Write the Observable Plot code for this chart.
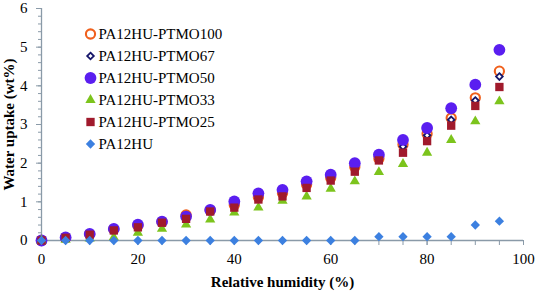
<!DOCTYPE html>
<html>
<head>
<meta charset="utf-8">
<script src="https://cdn.jsdelivr.net/npm/d3@7"></script>
<script src="https://cdn.jsdelivr.net/npm/@observablehq/plot@0.6"></script>
<style>
  html, body { margin: 0; padding: 0; background: #fff; }
  #chart { width: 536px; height: 291px; }
</style>
</head>
<body>
<div id="chart"></div>
<script>
// Relative humidity (%)
const rh = [0, 5, 10, 15, 20, 25, 30, 35, 40, 45, 50, 55, 60, 65, 70, 75, 80, 85, 90, 95];

// Water uptake (wt%)
const ptmo100 = [0, 0.07, 0.16, 0.29, 0.39, 0.48, 0.66, 0.78, 0.92, 1.12, 1.22, 1.45, 1.62, 1.90, 2.12, 2.48, 2.76, 3.17, 3.69, 4.38];
const ptmo67  = [0, 0.07, 0.16, 0.28, 0.38, 0.47, 0.62, 0.77, 0.90, 1.10, 1.20, 1.43, 1.60, 1.88, 2.10, 2.43, 2.72, 3.12, 3.62, 4.24];
const ptmo50  = [0, 0.08, 0.17, 0.30, 0.41, 0.49, 0.62, 0.79, 1.01, 1.22, 1.31, 1.53, 1.70, 2.00, 2.22, 2.60, 2.91, 3.42, 4.03, 4.93];
const ptmo33  = [0, 0.02, 0.05, 0.08, 0.20, 0.30, 0.41, 0.54, 0.72, 0.85, 1.03, 1.14, 1.34, 1.53, 1.77, 1.98, 2.27, 2.60, 3.08, 3.60];
const ptmo25  = [0, 0.07, 0.15, 0.26, 0.34, 0.46, 0.56, 0.75, 0.85, 1.06, 1.14, 1.36, 1.55, 1.78, 2.07, 2.27, 2.57, 2.97, 3.48, 3.97];
const pa12hu  = [0, 0, 0, 0, 0, 0, 0, 0, 0, 0, 0, 0, 0, 0, 0.10, 0.10, 0.10, 0.10, 0.40, 0.50];

const seriesNames = ["PA12HU-PTMO100", "PA12HU-PTMO67", "PA12HU-PTMO50", "PA12HU-PTMO33", "PA12HU-PTMO25", "PA12HU"];
const seriesValues = [ptmo100, ptmo67, ptmo50, ptmo33, ptmo25, pa12hu];

const xTicks = [0, 20, 40, 60, 80, 100];
const xMinorTicks = [0, 5, 10, 15, 20, 25, 30, 35, 40, 45, 50, 55, 60, 65, 70, 75, 80, 85, 90, 95, 100];
const yTicks = [0, 1, 2, 3, 4, 5, 6];
const yMinorTicks = [0, 0.2, 0.4, 0.6, 0.8, 1, 1.2, 1.4, 1.6, 1.8, 2, 2.2, 2.4, 2.6, 2.8, 3, 3.2, 3.4, 3.6, 3.8, 4, 4.2, 4.4, 4.6, 4.8, 5, 5.2, 5.4, 5.6, 5.8, 6];
const xLabel = "Relative humidity (%)";
const yLabel = "Water uptake (wt%)";

// styles (one per series)
const styles = [
  {symbol: "circle",   r: 4.6, fill: "white",   stroke: "#f0601c", strokeWidth: 2.1},
  {symbol: "diamond2", r: 3.0, fill: "white",   stroke: "#16166a", strokeWidth: 1.8},
  {symbol: "circle",   r: 5.9, fill: "#5a1ef0", stroke: "none",    strokeWidth: 0},
  {symbol: "triangle", r: 3.8, fill: "#7cc41c", stroke: "none",    strokeWidth: 0},
  {symbol: "square",   r: 4.7, fill: "#a01a2c", stroke: "none",    strokeWidth: 0},
  {symbol: "diamond2", r: 4.2, fill: "#3c80e0", stroke: "none",    strokeWidth: 0}
];

const axisColor = "#8a9aa8";
const font = "'Liberation Serif', Tinos, 'DejaVu Serif', serif";

const marks = [];
marks.push(Plot.ruleY([0], {stroke: axisColor, strokeWidth: 1.3}));
marks.push(Plot.ruleX([0], {stroke: axisColor, strokeWidth: 1.3}));
marks.push(Plot.axisX(xMinorTicks, {tickSize: 5, text: null, stroke: axisColor, label: null}));
marks.push(Plot.axisX(xTicks, {tickSize: 5, tickPadding: 8, stroke: axisColor, fill: "black", fontSize: 15, label: null}));
marks.push(Plot.axisY(yTicks, {tickSize: 5, tickPadding: 9, stroke: axisColor, fill: "black", fontSize: 15, label: null}));
marks.push(Plot.axisY(yMinorTicks, {tickSize: 3, text: null, stroke: axisColor, label: null}));

seriesNames.forEach((name, i) => {
  const data = rh.map((h, j) => ({rh: h, v: seriesValues[i][j]}));
  const s = styles[i];
  marks.push(Plot.dot(data, {x: "rh", y: "v", symbol: () => s.symbol, r: s.r, fill: s.fill, stroke: s.stroke, strokeWidth: s.strokeWidth}));
});

// legend inside plot area
seriesNames.forEach((name, i) => {
  const s = styles[i];
  marks.push(Plot.dot([name], {frameAnchor: "top-left", dx: 49, dy: 25.5 + i * 22, symbol: () => s.symbol, r: s.r, fill: s.fill, stroke: s.stroke, strokeWidth: s.strokeWidth}));
  marks.push(Plot.text([name], {frameAnchor: "top-left", dx: 57, dy: 25.5 + i * 22, text: d => d, textAnchor: "start", lineAnchor: "middle", fontSize: 15, fill: "black"}));
});

// axis titles
marks.push(Plot.text([yLabel], {frameAnchor: "left", dx: -32, rotate: -90, text: d => d, textAnchor: "middle", lineAnchor: "middle", fontSize: 15, fontWeight: "bold", fill: "black"}));
marks.push(Plot.text([xLabel], {frameAnchor: "bottom", dx: 0, dy: 46, text: d => d, textAnchor: "middle", lineAnchor: "bottom", fontSize: 15, fontWeight: "bold", fill: "black"}));

const chart = Plot.plot({
  width: 536,
  height: 291,
  marginLeft: 41,
  marginRight: 13,
  marginTop: 8,
  marginBottom: 51,
  x: {domain: [0, 100]},
  y: {domain: [0, 6]},
  symbol: {type: "identity"},
  style: {background: "white", color: "black", overflow: "visible"},
  marks
});
d3.select(chart).attr("font-family", font).style("font-family", font);
d3.select(chart).selectAll("g, text").attr("font-family", font).style("font-family", font);
document.getElementById("chart").appendChild(chart);
</script>
</body>
</html>
